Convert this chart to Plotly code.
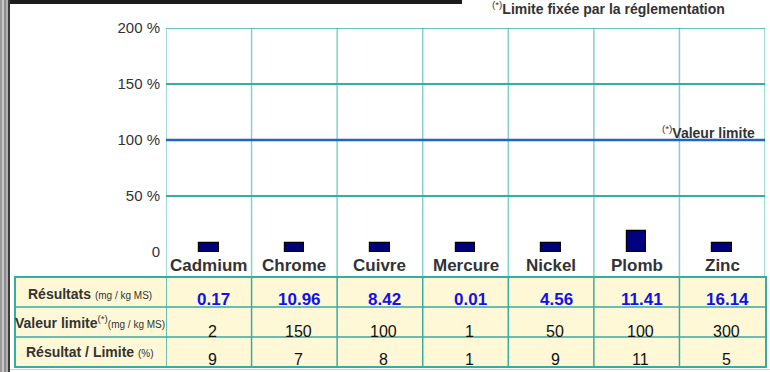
import plotly.graph_objects as go

# ---------------- data ----------------
categories = ["Cadmium", "Chrome", "Cuivre", "Mercure", "Nickel", "Plomb", "Zinc"]
resultats = ["0.17", "10.96", "8.42", "0.01", "4.56", "11.41", "16.14"]
valeur_limite = [2, 150, 100, 1, 50, 100, 300]
ratio_pct = [9, 7, 8, 1, 9, 11, 5]
bar_heights = [8, 8, 8, 8, 8, 19, 8]   # bar heights as drawn (% of limit)
limit_pct = 100
y_tickvals = [0, 50, 100, 150, 200]
y_ticktext = ["0", "50 %", "100 %", "150 %", "200 %"]
row_headers = [
    "<b>Résultats</b> <span style='font-size:10px'>(mg / kg MS)</span>",
    "<b>Valeur limite</b><sup>(*)</sup><span style='font-size:10px'>(mg / kg MS)</span>",
    "<b>Résultat / Limite</b> <span style='font-size:10px'>(%)</span>",
]
limit_label = "<sup>(*)</sup><b>Valeur limite</b>"
footnote = "<sup>(*)</sup><b>Limite fixée par la réglementation</b>"

# ---------------- layout helpers ----------------
W, H = 770, 372
def fx(px):
    return px / W
def fy(py):
    return 1 - py / H

SANS = "Liberation Sans, Arial"
TEXT = "#333333"
GRID_H = "#36ADA3"
GRID_V = "#84D1C9"
TABLE_LINE = "#36ADA3"
TABLE_BG = "#FEF8D6"

fig = go.Figure()
fig.add_trace(go.Bar(
    x=categories, y=bar_heights, width=0.23,
    marker=dict(color="#000080", line=dict(color="#000000", width=1.2)),
    hoverinfo="skip",
))

shapes = []
# vertical category boundaries (extend down to the table)
for i in range(len(categories) + 1):
    shapes.append(dict(type="line", xref="x", yref="paper",
                       x0=i - 0.5, x1=i - 0.5, y0=fy(277), y1=fy(28),
                       line=dict(color=GRID_V, width=1.5), layer="below"))
# top border of the plot
shapes.append(dict(type="line", xref="paper", yref="y",
                   x0=fx(166), x1=fx(765), y0=200, y1=200,
                   line=dict(color=GRID_H, width=1.5)))
# limit line
shapes.append(dict(type="line", xref="paper", yref="y",
                   x0=fx(166), x1=fx(765), y0=limit_pct, y1=limit_pct,
                   line=dict(color="#1F66BE", width=2.5)))
# table background
shapes.append(dict(type="rect", xref="paper", yref="paper",
                   x0=fx(15), x1=fx(766), y0=fy(367), y1=fy(277),
                   fillcolor=TABLE_BG, line=dict(color=TABLE_LINE, width=2), layer="below"))
for yy in (307, 337):
    shapes.append(dict(type="line", xref="paper", yref="paper",
                       x0=fx(15), x1=fx(766), y0=fy(yy), y1=fy(yy),
                       line=dict(color=TABLE_LINE, width=1.5)))
for i in range(len(categories)):
    shapes.append(dict(type="line", xref="x", yref="paper",
                       x0=i - 0.5, x1=i - 0.5, y0=fy(367), y1=fy(277),
                       line=dict(color=TABLE_LINE, width=1.5)))
# frame decorations
shapes.append(dict(type="rect", xref="paper", yref="paper",
                   x0=fx(9), x1=fx(462), y0=fy(4), y1=1,
                   fillcolor="#1c1c1c", line=dict(width=0)))
for x0, x1, c in [(0, 2, "#9a9a9a"), (2, 4, "#c8c8c8"), (4, 6, "#8c8c8c"),
                  (6, 8, "#b0b0b0"), (8, 10, "#3a3a3a")]:
    shapes.append(dict(type="rect", xref="paper", yref="paper",
                       x0=fx(x0), x1=fx(x1), y0=0, y1=1,
                       fillcolor=c, line=dict(width=0)))
shapes.append(dict(type="line", xref="paper", yref="paper",
                   x0=fx(10), x1=1, y0=fy(369.5), y1=fy(369.5),
                   line=dict(color="#d0d0d0", width=1)))

ann = []
for i, c in enumerate(categories):
    ann.append(dict(x=i, xref="x", y=fy(265), yref="paper", text="<b>%s</b>" % c,
                    showarrow=False, font=dict(family=SANS, size=17, color=TEXT),
                    xanchor="center", yanchor="middle"))
    ann.append(dict(x=i, xref="x", xshift=5, y=fy(299), yref="paper", text="<b>%s</b>" % resultats[i],
                    showarrow=False, font=dict(family=SANS, size=17, color="#1010F0"),
                    xanchor="center", yanchor="middle"))
    ann.append(dict(x=i, xref="x", xshift=4, y=fy(331), yref="paper", text=str(valeur_limite[i]),
                    showarrow=False, font=dict(family=SANS, size=16, color="#111111"),
                    xanchor="center", yanchor="middle"))
    ann.append(dict(x=i, xref="x", xshift=4, y=fy(359), yref="paper", text=str(ratio_pct[i]),
                    showarrow=False, font=dict(family=SANS, size=16, color="#111111"),
                    xanchor="center", yanchor="middle"))
for txt, yc in zip(row_headers, (294, 322, 352)):
    ann.append(dict(x=fx(90), xref="paper", y=fy(yc), yref="paper", text=txt,
                    showarrow=False, font=dict(family=SANS, size=14, color=TEXT),
                    xanchor="center", yanchor="middle"))
ann.append(dict(x=fx(757), xref="paper", y=limit_pct, yref="y", yshift=-3, text=limit_label,
                showarrow=False, font=dict(family=SANS, size=14, color=TEXT),
                xanchor="right", yanchor="bottom"))
ann.append(dict(x=fx(490), xref="paper", y=fy(8), yref="paper", text=footnote,
                showarrow=False, font=dict(family=SANS, size=14, color=TEXT),
                xanchor="left", yanchor="middle"))

fig.update_layout(
    width=W, height=H, autosize=False,
    margin=dict(l=0, r=0, t=0, b=0, pad=0, autoexpand=False),
    paper_bgcolor="white", plot_bgcolor="white",
    showlegend=False,
    xaxis=dict(domain=[fx(166), fx(765)], type="category", range=[-0.5, 6.5],
               showticklabels=False, showgrid=False, zeroline=False, showline=False,
               automargin=False, fixedrange=True),
    yaxis=dict(domain=[fy(252), fy(28)], range=[0, 200],
               tickvals=y_tickvals, ticktext=y_ticktext,
               tickfont=dict(family=SANS, size=15, color=TEXT),
               showgrid=True, gridcolor=GRID_H, gridwidth=1.5,
               zeroline=False, showline=False, ticks="", ticklabelstandoff=5,
               automargin=False, fixedrange=True),
    shapes=shapes, annotations=ann,
    bargap=0,
)

fig.write_html(
    "out.html",
    config={"displayModeBar": False},
    post_script="document.body.style.margin='0';document.body.style.overflow='hidden';",
)
